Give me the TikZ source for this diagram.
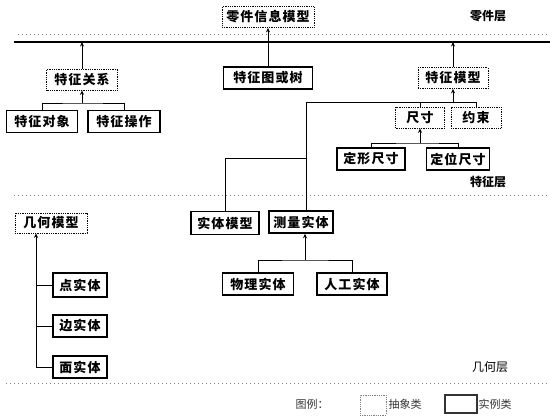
\documentclass[tikz,border=0pt]{standalone}
\usepackage{fontspec}
\newfontfamily\cjk{Noto Sans CJK SC}
\newfontfamily\cjkwide{Noto Sans CJK SC}[LetterSpace=8]
\usetikzlibrary{positioning, arrows.meta}

\begin{document}
\begin{tikzpicture}[x=1pt,y=-1pt,line width=1pt,>={Stealth[length=4.5pt,width=4pt]},
        abs/.style={draw,densely dotted,line width=0.8pt,minimum height=21pt,inner sep=1pt,font=\cjkwide\bfseries\fontsize{13}{13}\selectfont},
        ins/.style={draw,line width=1.5pt,minimum height=22pt,inner sep=1pt,font=\cjkwide\bfseries\fontsize{13}{13}\selectfont},
        lay/.style={font=\cjk\bfseries\fontsize{12}{12}\selectfont},
        leg/.style={font=\cjk\fontsize{11}{11}\selectfont,text=black!80},
        sep/.style={gray,line width=0.8pt,dash pattern=on 1pt off 3pt}]
        \useasboundingbox (0,0) rectangle (550,416);
        % layer lines
        \draw[sep] (18,34) -- (550,34);
        \draw[sep] (14,195) -- (550,195);
        \draw[sep] (6,383) -- (550,383);
        \draw[line width=2pt] (14,42) -- (550,42);
        \coordinate (b_1) at (82,42);
        \coordinate (b_2) at (453,42);
        \node[lay] (l_part) at (488,16) {零件层};
        \node[lay] (l_feat) at (488,182) {特征层};
        \node[lay,font=\cjk\fontsize{12}{12}\selectfont] (l_geo) at (490,367) {几何层};
        % part layer
        \node[abs,minimum width=92pt] (info) at (268,17) {零件信息模型};
        \node[ins,minimum width=89pt] (tree) at (268,78) {特征图或树};
        \draw[->] (tree) -- (info);
        \node[abs,minimum width=71pt] (rel) at (82,79.5) {特征关系};
        \node[ins,minimum width=71pt] (obj) at (42,121.5) {特征对象};
        \node[ins,minimum width=72pt] (op) at (124,121.5) {特征操作};
        \coordinate (j_1) at (82,103);
        \draw (obj.north) |- (j_1) -| (op.north);
        \draw[->] (j_1) -- (rel);
        \draw[->] (rel) -- (b_1);
        % feature layer
        \node[abs,minimum width=70pt] (fmodel) at (453,78) {特征模型};
        \draw[->] (fmodel) -- (b_2);
        \node[abs,minimum width=49pt] (size) at (420,117.5) {尺寸};
        \node[abs,minimum width=50pt] (cons) at (476,117.5) {约束};
        \node[ins,minimum width=68pt] (shape) at (371,159) {定形尺寸};
        \node[ins,minimum width=63pt] (pos) at (458,159) {定位尺寸};
        \coordinate (j_2) at (453,102);
        \coordinate (j_3) at (306,102);
        \coordinate (j_4) at (420,143);
        \draw (j_3) -- (size.north |- j_3);
        \draw (size.north) -- (size.north |- j_3);
        \draw (size.north |- j_3) -| (cons.north);
        \draw[->] (j_2) -- (fmodel);
        \draw (shape.north) |- (j_4) -| (pos.north);
        \draw[->] (j_4) -- (size);
        % geometry layer
        \node[ins,minimum width=68pt,minimum height=23pt] (solid) at (225,223) {实体模型};
        \node[ins,minimum width=64pt] (meas) at (301,222) {测量实体};
        \coordinate (j_5) at (306,158);
        \draw (meas.north -| j_3) -- (j_3);
        \draw (solid.north) |- (j_5);
        \node[ins,minimum width=71pt] (phys) at (258,284) {物理实体};
        \node[ins,minimum width=70pt] (art) at (352,284) {人工实体};
        \coordinate (j_6) at (305,260);
        \draw (phys.north) |- (j_6) -| (art.north);
        \draw[->] (j_6) -- (meas.south -| j_6);
        \node[abs,minimum width=72pt,minimum height=20pt] (geo) at (51,223) {几何模型};
        \node[ins,minimum width=54pt,minimum height=24pt] (pt) at (80,285) {点实体};
        \node[ins,minimum width=54pt] (edge) at (80,326) {边实体};
        \node[ins,minimum width=54pt] (face) at (80,367) {面实体};
        \coordinate (j_7) at (36,367);
        \draw[->] (j_7) -- (geo.south -| j_7);
        \foreach \n in {pt,edge,face}
            \draw (\n.west) -- (\n.west -| j_7);
        % legend
        \node[leg] (lg) at (312,404) {图例：};
        \node[abs,minimum width=26pt,minimum height=20pt,gray] (lg_abs) at (373,405) {};
        \node[leg] (lg_abs_t) at (405,404) {抽象类};
        \node[ins,minimum width=32pt,minimum height=18pt,line width=1.2pt,draw=black!80] (lg_ins) at (461,404) {};
        \node[leg] (lg_ins_t) at (495,404) {实例类};
\end{tikzpicture}
\end{document}
